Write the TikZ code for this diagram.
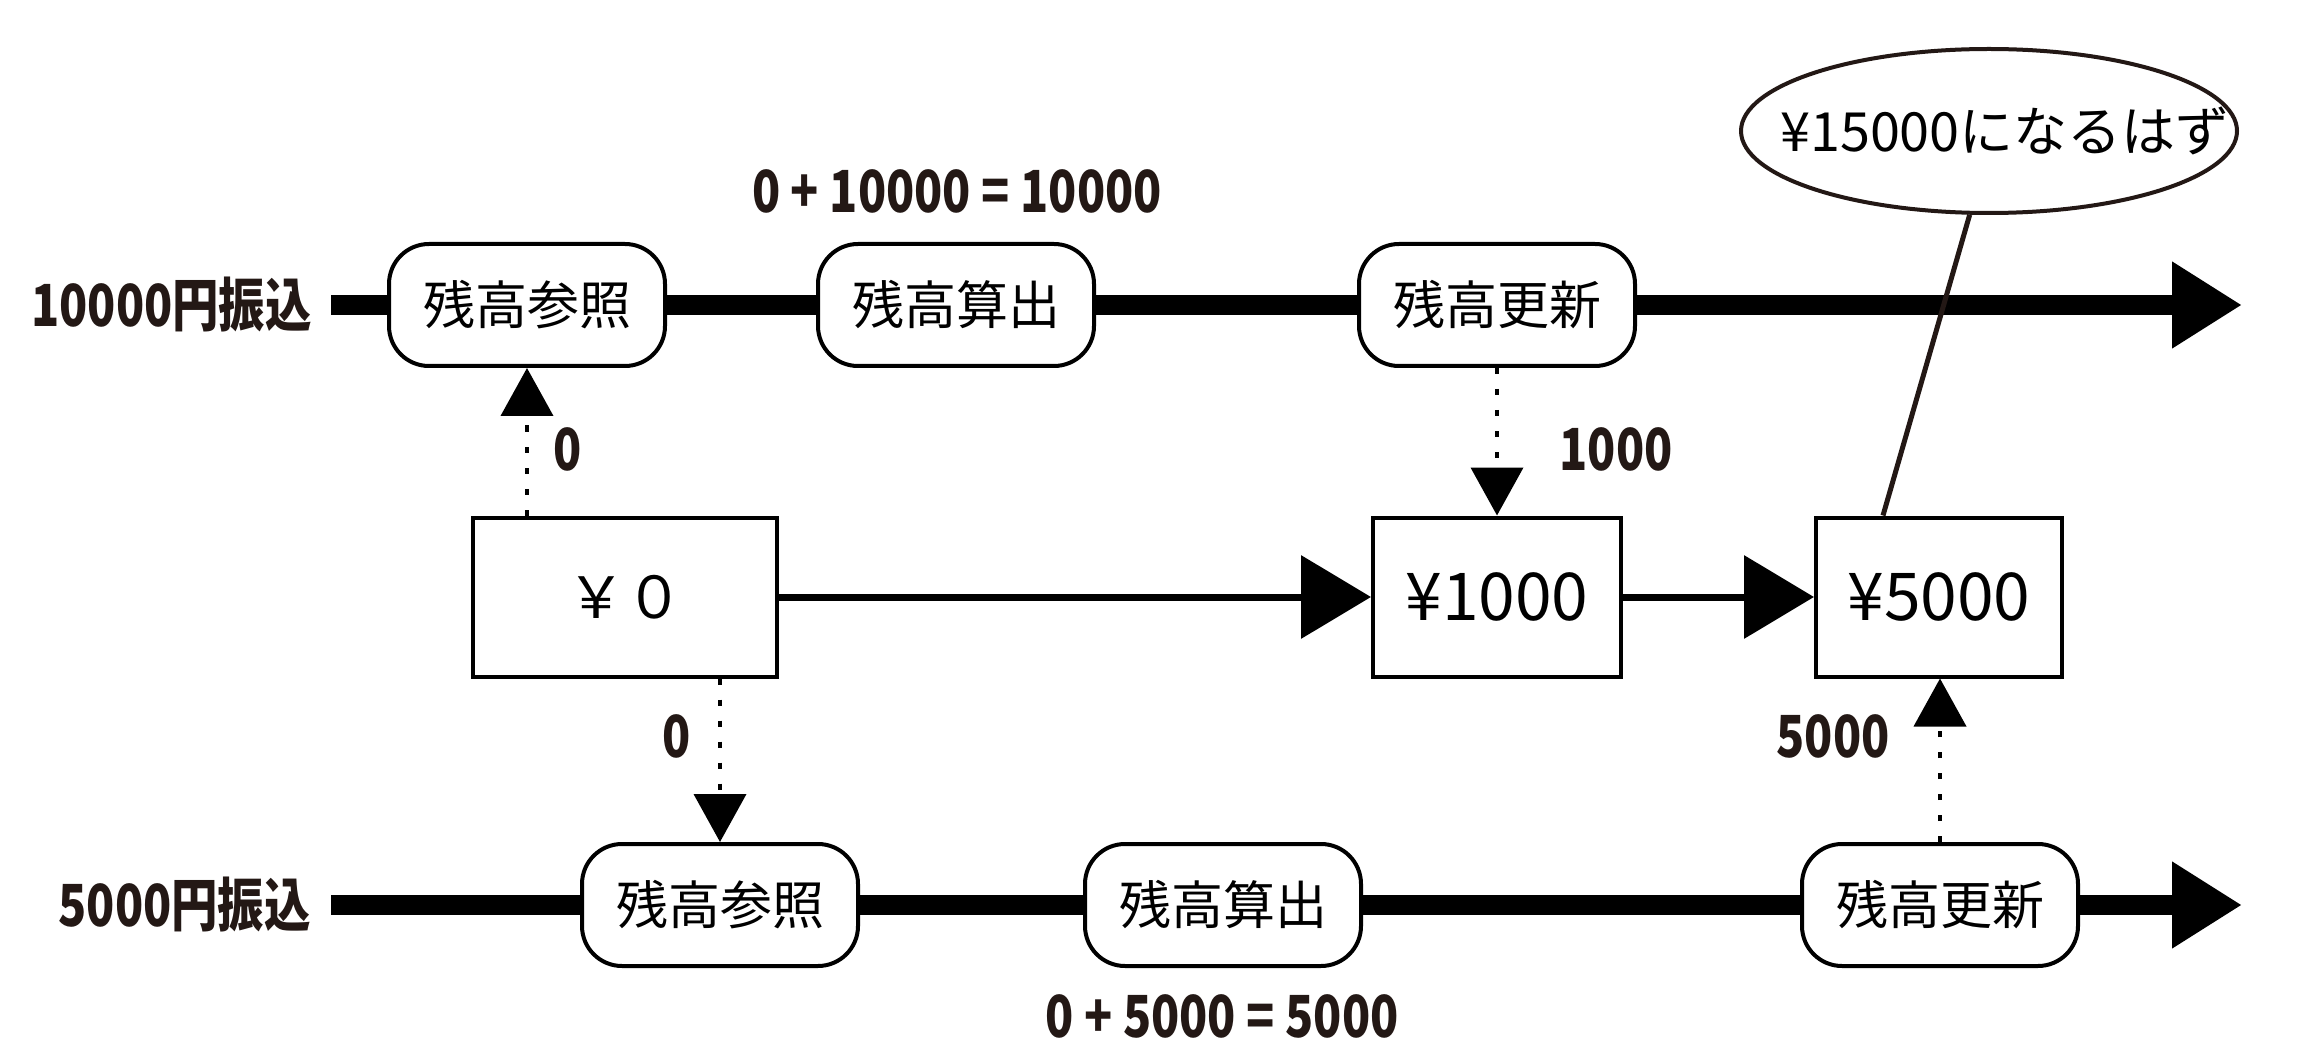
\documentclass[tikz,border=0pt]{standalone}
\usepackage{fontspec}
\newfontfamily\jp{Noto Sans CJK JP}
\usetikzlibrary{arrows.meta,shapes.geometric,calc}
\definecolor{ink}{HTML}{231815}
\newcommand\narrowtxt[1]{\scalebox{0.8}[1]{#1}}
\begin{document}
\begin{tikzpicture}[x=1pt,y=-1pt,
  proc/.style={draw=black, line width=4pt, fill=white, rounded corners=40pt,
    minimum width=276pt, minimum height=122pt, inner sep=0pt,
    font=\jp\fontsize{52}{60}\selectfont},
  acct/.style={draw=black, line width=4pt, fill=white, minimum height=159pt,
    inner sep=0pt, font=\jp\fontsize{66}{74}\selectfont},
  lbl/.style={text=ink, inner sep=0pt, font=\jp\bfseries\fontsize{58}{64}\selectfont},
  flow/.style={line width=20pt, -{Triangle[length=70pt,width=82pt]}},
  pass/.style={line width=7pt, -{Triangle[length=70pt,width=82pt]}},
  refarrow/.style={line width=4pt, dash pattern=on 6pt off 15pt,
    -{Triangle[length=48pt,width=52pt]}},
]
\useasboundingbox[fill=white] (0,0) rectangle (2308,1064);

% timelines of the two transfers
\coordinate (a1) at (331,305);
\coordinate (b1) at (2242,305);
\coordinate (a2) at (331,905);
\coordinate (b2) at (2242,905);
\draw[flow] (a1) -- (b1);
\draw[flow] (a2) -- (b2);

% steps of the 10000 transfer
\node[proc] (r1) at (527,305) {残高参照};
\node[proc] (c1) at (956,305) {残高算出};
\node[proc] (u1) at (1497,305) {残高更新};

% steps of the 5000 transfer
\node[proc] (r2) at (720,905) {残高参照};
\node[proc] (c2) at (1223,905) {残高算出};
\node[proc] (u2) at (1940,905) {残高更新};

% account balance over time
\node[acct, minimum width=304pt, font=\jp\fontsize{58}{66}\selectfont] (y0) at (625,597) {￥０};
\node[acct, minimum width=248pt] (y1) at (1497,597) {¥1000};
\node[acct, minimum width=246pt] (y5) at (1939,597) {¥5000};
\draw[pass] (y0) -- (y1);
\draw[pass] (y1) -- (y5);

% reads and writes
\draw[refarrow] (y0.north -| r1.south) -- (r1.south);
\draw[refarrow] (y0.south -| r2.north) -- (r2.north);
\draw[refarrow] (u1.south) -- (u1.south |- y1.north);
\draw[refarrow] (u2.north) -- (u2.north |- y5.south);

% labels
\node[lbl, anchor=east] (t1) at ($(a1)+(-19pt,0)$) {\narrowtxt{10000円振込}};
\node[lbl, anchor=east] (t2) at ($(a2)+(-20pt,0)$) {\narrowtxt{5000円振込}};
\node[lbl] (e1) at (957,191) {\narrowtxt{0 + 10000 = 10000}};
\node[lbl] (e2) at (1222,1016) {\narrowtxt{0 + 5000 = 5000}};
\node[lbl] (v1) at (568,449) {\narrowtxt{0}};
\node[lbl] (v2) at (677,736) {\narrowtxt{0}};
\node[lbl] (v3) at (1616,449) {\narrowtxt{1000}};
\node[lbl] (v4) at (1833,736) {\narrowtxt{5000}};

% expected result
\node[draw=ink, line width=4pt, ellipse, fill=white, minimum width=496pt,
  minimum height=164pt, inner sep=0pt,
  label={[font=\jp\fontsize{54}{62}\selectfont, inner sep=0pt, xshift=16pt]center:¥15000になるはず}]
  (note) at (1989,131) {};
\draw[ink, line width=5pt] (note.-103) -- ($(y5.north)+(-56pt,0)$);
\end{tikzpicture}
\end{document}
